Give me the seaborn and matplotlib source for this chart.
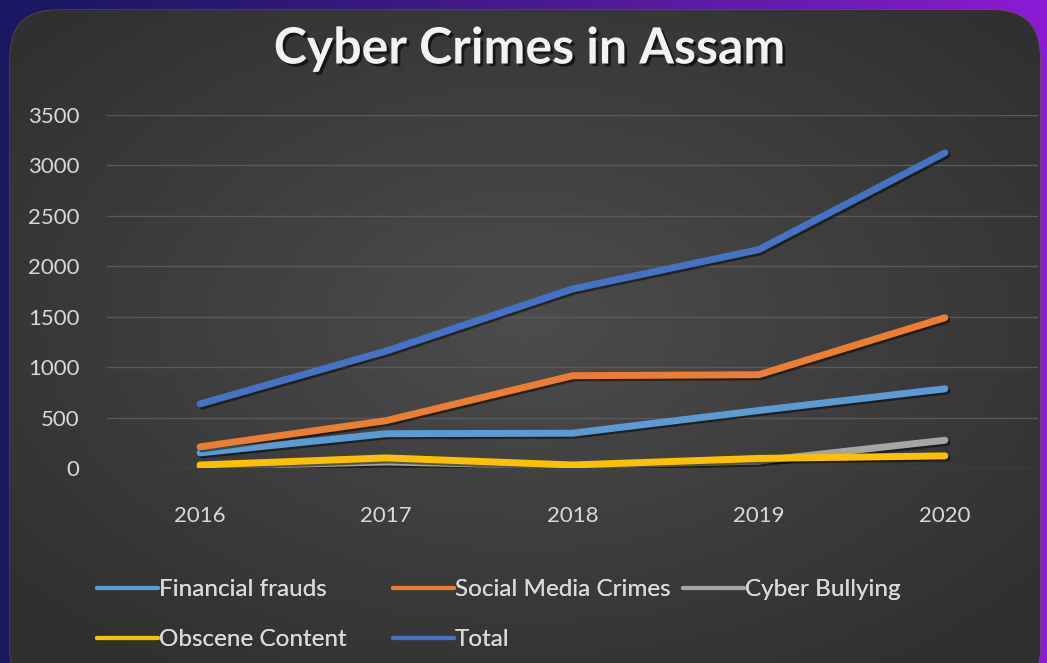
import numpy as np
import pandas as pd
import matplotlib
matplotlib.use("Agg")
import matplotlib.pyplot as plt
import matplotlib.patheffects as pe
from matplotlib.patches import FancyBboxPatch
from matplotlib.lines import Line2D
import seaborn as sns

years = [2016, 2017, 2018, 2019, 2020]
financial_frauds = [150, 340, 345, 570, 785]
social_media_crimes = [210, 470, 915, 925, 1490]
cyber_bullying = [15, 60, 20, 70, 275]
obscene_content = [30, 100, 30, 95, 120]
total = [635, 1160, 1775, 2165, 3125]
series_names = ["Financial frauds", "Social Media Crimes", "Cyber Bullying",
                "Obscene Content", "Total"]
y_ticks = [0, 500, 1000, 1500, 2000, 2500, 3000, 3500]
title = "Cyber Crimes in Assam"

colors = {"Financial frauds": "#5B9BD5", "Social Media Crimes": "#ED7D31",
          "Cyber Bullying": "#A5A5A5", "Obscene Content": "#FFC000",
          "Total": "#4472C4"}

df = pd.DataFrame({
    "Year": years * 5,
    "Cases": financial_frauds + social_media_crimes + cyber_bullying + obscene_content + total,
    "Series": sum([[n] * len(years) for n in series_names], []),
})

sns.set_theme(style="dark")
plt.rcParams["font.family"] = ["Lato", "DejaVu Sans"]

W, H = 1047, 663
fig = plt.figure(figsize=(W / 100, H / 100), dpi=100)

# background gradient (navy -> purple)
bg = fig.add_axes([0, 0, 1, 1])
bg.set_axis_off()
gx = np.linspace(0, 1, 256)[None, :]
gy = np.linspace(0, 1, 64)[:, None]
c0 = np.array([0x1a, 0x18, 0x60]) / 255
c1 = np.array([0x8c, 0x1c, 0xd4]) / 255
t = np.clip(gx ** 1.3 + 0 * gy, 0, 1)
img = c0[None, None, :] * (1 - t[..., None]) + c1[None, None, :] * t[..., None]
bg.imshow(img, extent=[0, 1, 0, 1], aspect="auto", origin="lower", zorder=0)

# rounded dark panel with radial gradient
px0, py0, px1, py1 = 10 / W, -0.05, 1040 / W, 1 - 10 / H
panel = FancyBboxPatch((px0, py0), px1 - px0, py1 - py0,
                       boxstyle="round,pad=0,rounding_size=0.045",
                       transform=bg.transAxes, facecolor="#3a3a3a",
                       edgecolor="#6b5a3a", linewidth=0.8,
                       mutation_aspect=W / H, zorder=1)
bg.add_patch(panel)
xx, yy = np.meshgrid(np.linspace(-1, 1, 300), np.linspace(-1, 1, 200))
r = np.sqrt(xx ** 2 * 0.9 + (yy - 0.1) ** 2)
shade = np.clip(0.30 - 0.09 * r, 0.19, 0.30)
rad = np.dstack([shade, shade, shade])
im = bg.imshow(rad, extent=[px0, px1, py0, py1], aspect="auto", origin="lower", zorder=2)
im.set_clip_path(panel)
bg.set_xlim(0, 1)
bg.set_ylim(0, 1)

# main axes
ax = fig.add_axes([107 / W, 1 - 468 / H, (1038 - 107) / W, (468 - 115) / H])
ax.patch.set_alpha(0)
sns.lineplot(data=df, x="Year", y="Cases", hue="Series", hue_order=series_names,
             palette=colors, linewidth=5, ax=ax, legend=False, sort=False)
for ln in ax.get_lines():
    ln.set_solid_capstyle("round")
    ln.set_solid_joinstyle("round")
    ln.set_path_effects([pe.SimpleLineShadow(offset=(1.5, -1.5), shadow_color="black", alpha=0.5),
                         pe.Normal()])

ax.set_xlim(2015.5, 2020.5)
ax.set_ylim(0, 3500)
ax.set_yticks(y_ticks)
ax.set_xticks(years)
ax.set_xticklabels([str(y) for y in years])
ax.set_xlabel("")
ax.set_ylabel("")
ax.grid(axis="y", color="#5a5a5a", linewidth=1)
ax.grid(axis="x", visible=False)
for s in ax.spines.values():
    s.set_visible(False)
ax.tick_params(axis="y", colors="#d9d9d9", labelsize=16, pad=20, length=0)
ax.tick_params(axis="x", colors="#d9d9d9", labelsize=16, pad=27, length=0)

fig.text(529 / W, 1 - 49 / H, title, ha="center", va="center", fontsize=36,
         fontweight="bold", color="#f2f2f2",
         path_effects=[pe.withSimplePatchShadow(offset=(2, -2), shadow_rgbFace="black", alpha=0.6)])

# legend: three equal-width columns like the original
legend_cols = [["Financial frauds", "Obscene Content"],
               ["Social Media Crimes", "Total"],
               ["Cyber Bullying"]]
col_x = [97, 393, 683]
for names, x0 in zip(legend_cols, col_x):
    hs = [Line2D([0], [0], color=colors[n], linewidth=3) for n in names]
    lg = fig.legend(hs, names, loc="upper left", bbox_to_anchor=(x0 / W, 1 - 579 / H),
                    frameon=False, fontsize=17.5, handlelength=2.5, handletextpad=0.05,
                    labelspacing=1.2, borderpad=0, borderaxespad=0,
                    labelcolor="#d9d9d9")
    fig.add_artist(lg)

fig.savefig("out.png", dpi=100)
